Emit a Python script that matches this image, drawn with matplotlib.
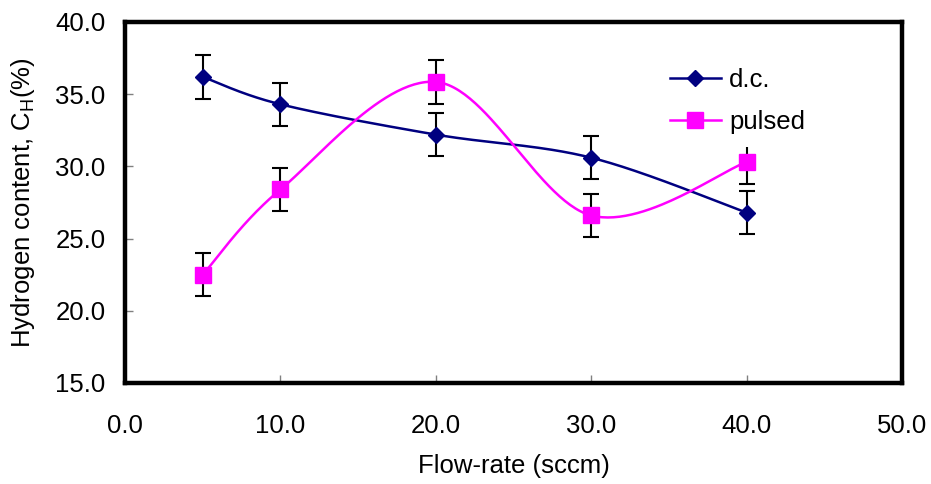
import numpy as np
import matplotlib
matplotlib.use("Agg")
import matplotlib.pyplot as plt

plt.rcParams["font.family"] = ["Liberation Sans", "DejaVu Sans"]

# flow-rate (sccm) and hydrogen content (%) with error bars
flow = [5, 10, 20, 30, 40]
dc = [36.2, 34.3, 32.2, 30.6, 26.8]
dc_err = [1.5, 1.5, 1.5, 1.5, 1.5]
pulsed = [22.5, 28.4, 35.85, 26.6, 30.3]
pulsed_err = [1.5, 1.5, 1.5, 1.5, 1.5]

x_ticks = [0, 10, 20, 30, 40, 50]
y_ticks = [15, 20, 25, 30, 35, 40]


def smooth(xs, ys, n=60):
    """Catmull-Rom style bezier smoothing through the points (like a spreadsheet 'smoothed line')."""
    p = np.column_stack([xs, ys]).astype(float)
    p = np.vstack([p[0], p, p[-1]])
    t = np.linspace(0, 1, n)[:, None]
    out = []
    for i in range(1, len(p) - 2):
        p0, p1, p2, p3 = p[i - 1], p[i], p[i + 1], p[i + 2]
        c1 = p1 + (p2 - p0) / 6
        c2 = p2 - (p3 - p1) / 6
        seg = ((1 - t) ** 3) * p1 + 3 * ((1 - t) ** 2) * t * c1 + 3 * (1 - t) * t ** 2 * c2 + t ** 3 * p2
        out.append(seg)
    curve = np.vstack(out)
    return curve[:, 0], curve[:, 1]


fig = plt.figure(figsize=(9.31, 4.84), dpi=100)
ax = fig.add_axes([0.1343, 0.2087, 0.8346, 0.7459])

navy = "#000080"
magenta = "#FF00FF"

sx, sy = smooth(flow, dc)
ax.plot(sx, sy, color=navy, lw=1.8, zorder=3)
sx, sy = smooth(flow, pulsed)
ax.plot(sx, sy, color=magenta, lw=1.8, zorder=3)

ax.errorbar(flow, dc, yerr=dc_err, fmt="none", ecolor="black", elinewidth=1.5,
            capsize=6, capthick=1.5, zorder=2)
ax.errorbar(flow, pulsed, yerr=pulsed_err, fmt="none", ecolor="black", elinewidth=1.5,
            capsize=6, capthick=1.5, zorder=2)

ax.plot(flow, dc, ls="none", marker="D", ms=8.5, color=navy, zorder=4)
ax.plot(flow, pulsed, ls="none", marker="s", ms=11, color=magenta, zorder=4)

# legend handles: line with marker
h1, = ax.plot([], [], color=navy, lw=1.8, marker="D", ms=8.5)
h2, = ax.plot([], [], color=magenta, lw=1.8, marker="s", ms=11)
leg = ax.legend([h1, h2], ["d.c.", "pulsed"], loc="upper left",
                bbox_to_anchor=(0.668, 0.945), fontsize=18.5, frameon=True,
                handlelength=2.0, handletextpad=0.3, labelspacing=0.72,
                borderpad=0.5, fancybox=False)
leg.get_frame().set_edgecolor("none")
leg.get_frame().set_facecolor("white")
leg.get_frame().set_alpha(1)
leg.set_zorder(5)

ax.set_xlim(0, 50)
ax.set_ylim(15, 40)
ax.set_xticks(x_ticks)
ax.set_yticks(y_ticks)
ax.set_xticklabels([f"{v:.1f}" for v in x_ticks])
ax.set_yticklabels([f"{v:.1f}" for v in y_ticks])
ax.tick_params(axis="both", direction="in", color="#808080", width=1, length=6,
               labelsize=18.5)
ax.tick_params(axis="x", pad=22)
ax.tick_params(axis="y", pad=14)

for s in ax.spines.values():
    s.set_linewidth(3.2)
    s.set_color("black")

ax.set_xlabel("Flow-rate (sccm)", fontsize=18.5, labelpad=12)
ax.set_ylabel(r"Hydrogen content, C$_\mathregular{H}$(%)", fontsize=18.5, labelpad=13)

fig.savefig("out.png", dpi=100)
